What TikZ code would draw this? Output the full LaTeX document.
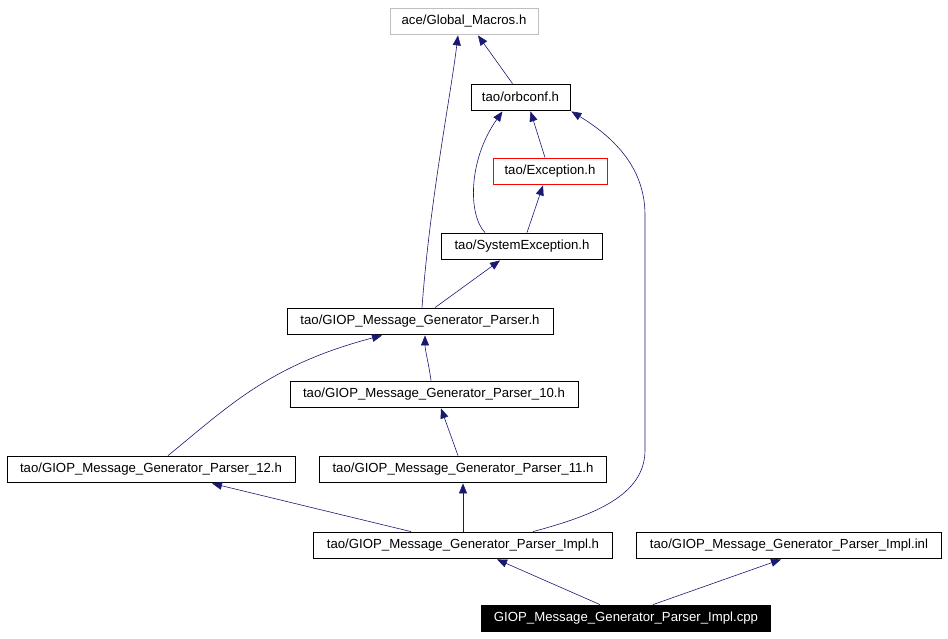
\documentclass[tikz,border=0pt]{standalone}
\usepackage{fontspec}
\setmainfont{Liberation Sans}
\usetikzlibrary{arrows.meta}
\definecolor{edgeblue}{HTML}{191970}
\definecolor{boxgray}{HTML}{BFBFBF}
\tikzset{
  filebox/.style={draw=black, line width=0.8pt, minimum height=26pt, inner sep=0pt, font=\fontsize{13.2}{15}\selectfont, text=black},
  greybox/.style={filebox, draw=boxgray},
  redbox/.style={filebox, draw=red},
  rootbox/.style={filebox, fill=black, text=white},
  dep/.style={draw=edgeblue, line width=0.6pt, -{Triangle[length=10pt,width=8pt,fill=edgeblue]}},
}
\begin{document}
\begin{tikzpicture}[x=1pt,y=-1pt]
\useasboundingbox (0,0) rectangle (948,639);
\node[greybox, minimum width=148pt] (glob) at (464,21) {ace/Global\_Macros.h};
\node[filebox, minimum width=99pt] (orb) at (520.5,97) {tao/orbconf.h};
\node[redbox, minimum width=114pt] (exc) at (550,171) {tao/Exception.h};
\node[filebox, minimum width=161pt] (se) at (522,246) {tao/SystemException.h};
\node[filebox, minimum width=266pt] (gp) at (420,321) {tao/GIOP\_Message\_Generator\_Parser.h};
\node[filebox, minimum width=288pt] (gpten) at (434,394) {tao/GIOP\_Message\_Generator\_Parser\_10.h};
\node[filebox, minimum width=288pt] (gptw) at (151,469) {tao/GIOP\_Message\_Generator\_Parser\_12.h};
\node[filebox, minimum width=287pt] (gpel) at (463,469) {tao/GIOP\_Message\_Generator\_Parser\_11.h};
\node[filebox, minimum width=299pt] (impl) at (463,545) {tao/GIOP\_Message\_Generator\_Parser\_Impl.h};
\node[filebox, minimum width=305pt] (inl) at (789,545) {tao/GIOP\_Message\_Generator\_Parser\_Impl.inl};
\node[rootbox, minimum width=289pt] (cpp) at (626,618) {GIOP\_Message\_Generator\_Parser\_Impl.cpp};

\draw[dep] ([xshift=-8pt]orb.north) -- ([xshift=14pt,yshift=-1pt]glob.south);
\draw[dep] ([xshift=2pt]gp.north) .. controls (430,200) and (450,100) .. ([xshift=-6pt,yshift=-1pt]glob.south);
\draw[dep] ([xshift=-5pt]exc.north) -- ([xshift=10pt,yshift=-1pt]orb.south);
\draw[dep] ([xshift=-37pt]se.north) .. controls (468,215) and (468,160) .. ([xshift=-18pt,yshift=-1pt]orb.south);
\draw[dep] ([xshift=5pt]se.north) -- ([xshift=-7pt,yshift=-1pt]exc.south);
\draw[dep] ([xshift=70pt]impl.north) .. controls (595,515) and (645,495) .. (645,450) -- (645,215) .. controls (645,165) and (610,135) .. ([xshift=1pt,yshift=-1pt]orb.south east);
\draw[dep] ([xshift=15pt]gp.north) -- ([xshift=-22pt,yshift=-1pt]se.south);
\draw[dep] ([xshift=17pt]gptw.north) .. controls (230,405) and (270,365) .. ([xshift=-38pt,yshift=-1pt]gp.south);
\draw[dep] ([xshift=-3pt]gpten.north) .. controls (429,365) and (425,350) .. ([xshift=5pt,yshift=-1pt]gp.south);
\draw[dep] ([xshift=-5pt]gpel.north) -- ([xshift=7pt,yshift=-1pt]gpten.south);
\draw[dep] ([xshift=-52pt]impl.north) -- ([xshift=61pt,yshift=-1pt]gptw.south);
\draw[dep] (impl.north) -- ([yshift=-1pt]gpel.south);
\draw[dep] ([xshift=-26pt]cpp.north) -- ([xshift=34pt,yshift=-1pt]impl.south);
\draw[dep] ([xshift=27pt]cpp.north) -- ([xshift=-8pt,yshift=-1pt]inl.south);
\end{tikzpicture}
\end{document}
